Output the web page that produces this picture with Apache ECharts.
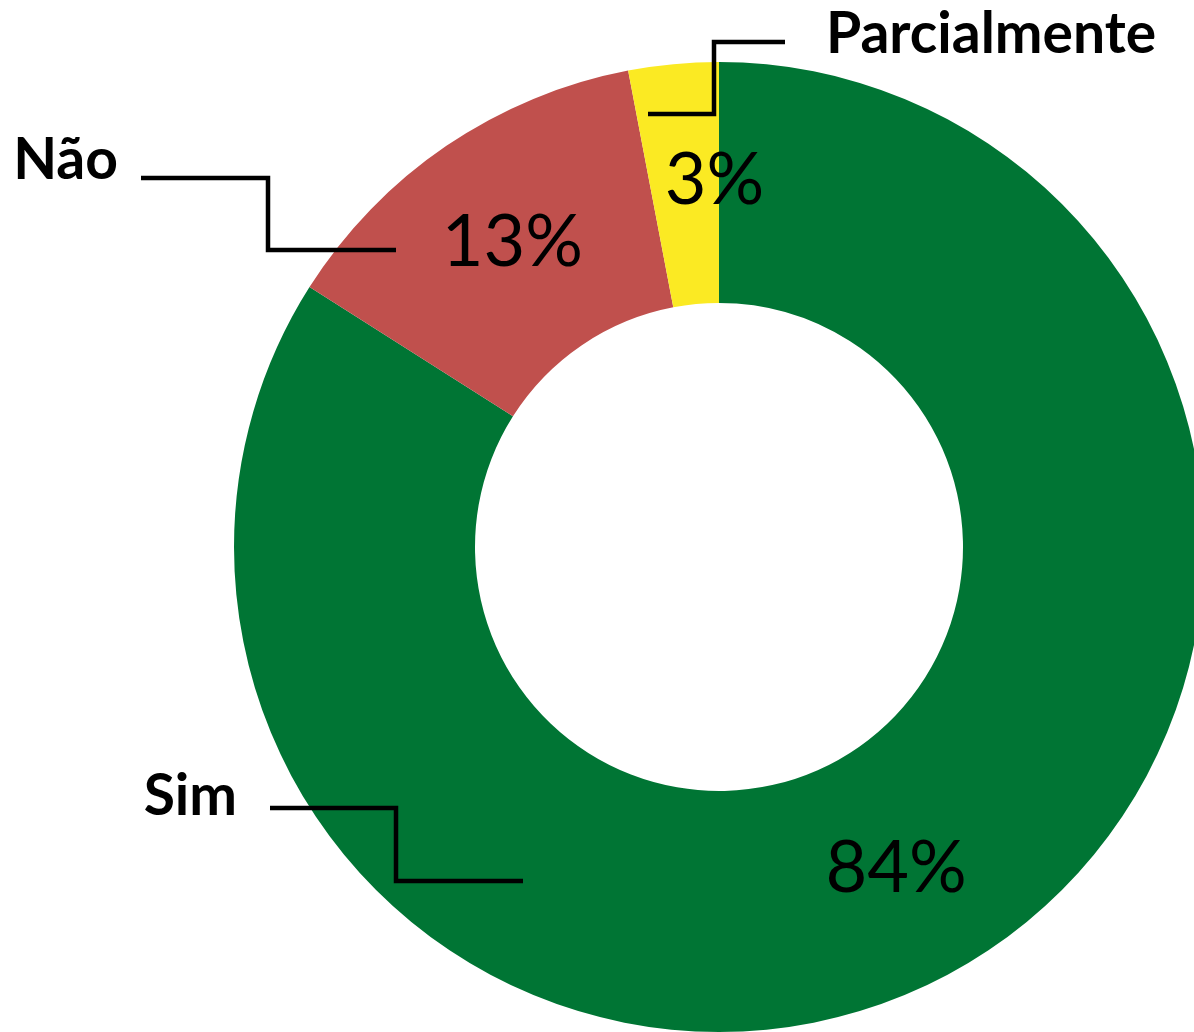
<!DOCTYPE html>
<html>
<head>
<meta charset="utf-8">
<script src="https://cdn.jsdelivr.net/npm/echarts@6/dist/echarts.min.js"></script>
<style>
  html, body { margin: 0; padding: 0; background: #fff; }
  #chart { width: 1194px; height: 1032px; }
</style>
</head>
<body>
<div id="chart"></div>
<script>
  // respostas
  const categories = ['Sim', 'Não', 'Parcialmente'];
  const values = [84, 13, 3];
  const colors = ['#007534', '#C0504D', '#FBEA23'];

  // onde ficam os nomes e as linhas de chamada (px)
  const nameLayout = [
    { x: 237, y: 797, align: 'right', line: [[270, 808], [396, 808], [396, 881], [523, 881]] },
    { x: 118, y: 161, align: 'right', line: [[141, 178], [268, 178], [268, 250], [396, 250]] },
    { x: 826, y: 35, align: 'left', line: [[785, 42], [714, 42], [714, 114], [648, 114]] }
  ];

  const center = [719, 547];
  const radius = [244, 485];

  const pieData = categories.map((c, i) => ({
    name: c,
    value: values[i],
    itemStyle: { color: colors[i] }
  }));

  const myChart = echarts.init(document.getElementById('chart'));
  const option = {
    animation: false,
    series: [
      {
        type: 'pie',
        z: 2,
        center: center,
        radius: radius,
        startAngle: 90,
        clockwise: true,
        data: pieData,
        label: {
          show: true,
          position: 'inside',
          formatter: p => Math.round(p.percent) + '%',
          fontFamily: 'Lato',
          fontSize: 72,
          color: '#000'
        },
        labelLine: { show: false },
        labelLayout: p => (p.dataIndex === 2 ? { dx: 30 } : {})
      },
      {
        type: 'pie',
        z: 5,
        silent: true,
        center: center,
        radius: radius,
        startAngle: 90,
        clockwise: true,
        data: categories.map((c, i) => ({ name: c, value: values[i] })),
        itemStyle: { color: 'rgba(0,0,0,0)' },
        label: {
          show: true,
          position: 'outside',
          formatter: '{b}',
          fontFamily: 'Lato',
          fontWeight: 'bold',
          fontSize: 57,
          color: '#000'
        },
        labelLine: {
          show: true,
          lineStyle: { color: '#000', width: 4.5 }
        },
        labelLayout: p => {
          const l = nameLayout[p.dataIndex];
          return {
            x: l.x,
            y: l.y,
            align: l.align,
            verticalAlign: 'middle',
            labelLinePoints: l.line
          };
        }
      }
    ]
  };
  myChart.setOption(option);
</script>
</body>
</html>
